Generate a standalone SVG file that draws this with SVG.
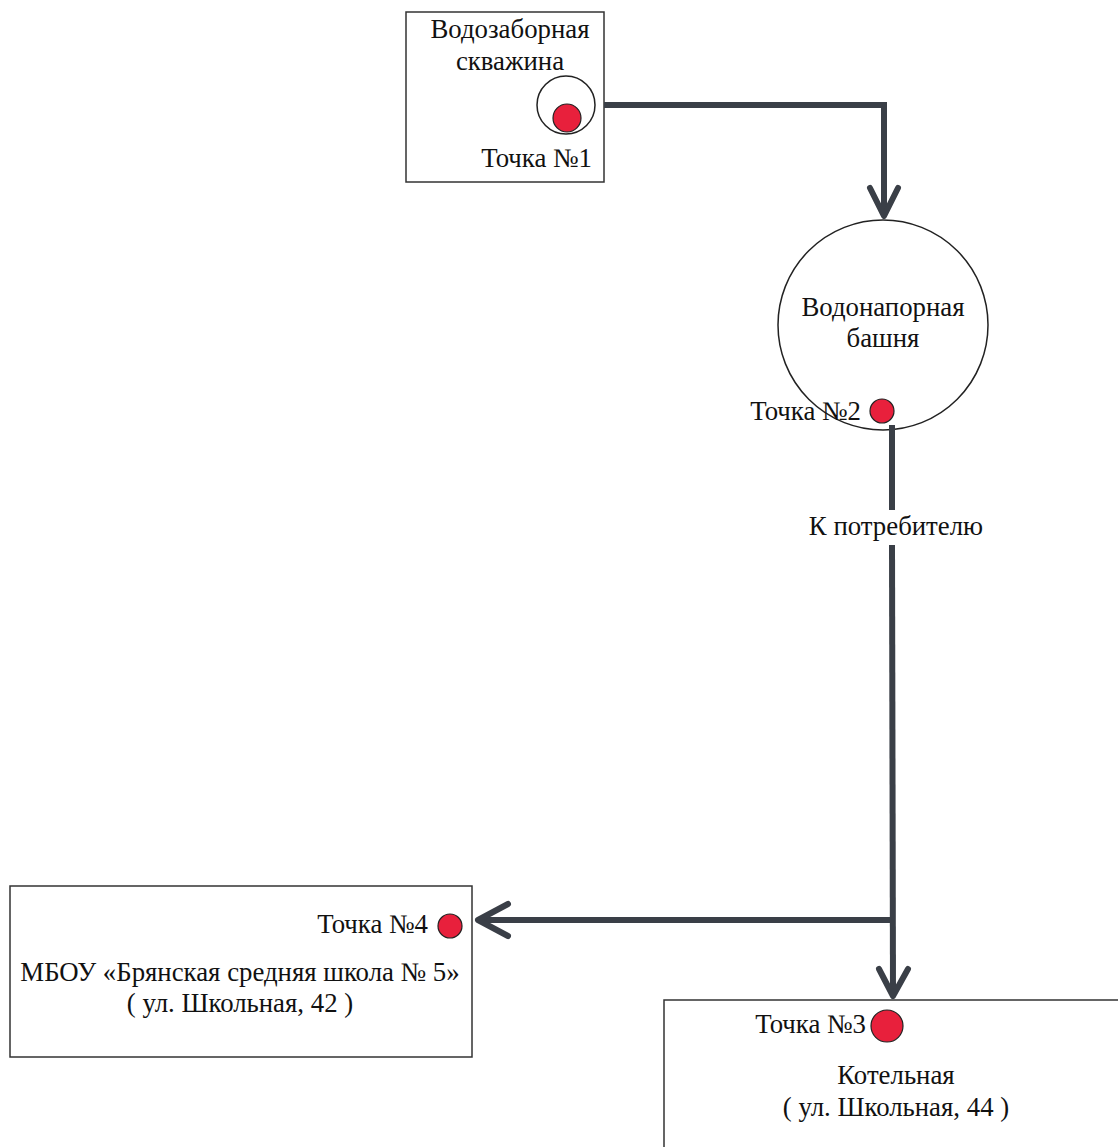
<svg xmlns="http://www.w3.org/2000/svg" width="1118" height="1147" viewBox="0 0 1118 1147">
<style>
.box{fill:#fff;stroke:#333;stroke-width:1.5}
.t{font-family:"Liberation Serif","Times New Roman",serif;font-size:26.8px;fill:#111}
.m{text-anchor:middle}
.e{text-anchor:end}
.dot{fill:#e8203c;stroke:#222;stroke-width:1.2}
.pipe{fill:none;stroke:#3a3f47;stroke-width:6}
.head{fill:none;stroke:#3a3f47;stroke-width:6;stroke-linecap:round;stroke-linejoin:round}
</style>
<rect width="1118" height="1147" fill="#fff"/>
<g id="well">
<rect class="box" x="406" y="12" width="198" height="170"/>
<text class="t m" x="510" y="38">Водозаборная</text>
<text class="t m" x="510" y="70">скважина</text>
<circle cx="566" cy="105" r="29" fill="#fff" stroke="#222" stroke-width="1.5"/>
<circle class="dot" cx="567" cy="118" r="14"/>
<text class="t e" x="592" y="167">Точка №1</text>
</g>
<g id="tower">
<circle cx="883" cy="325" r="105" fill="#fff" stroke="#222" stroke-width="1.5"/>
<text class="t m" x="883" y="316">Водонапорная</text>
<text class="t m" x="883" y="347">башня</text>
<text class="t e" x="861" y="420">Точка №2</text>
<circle class="dot" cx="882" cy="411" r="12"/>
</g>
<g id="school">
<rect class="box" x="10" y="886" width="462" height="171"/>
<text class="t e" x="428" y="933">Точка №4</text>
<circle class="dot" cx="450" cy="926" r="12"/>
<text class="t m" x="240" y="981">МБОУ «Брянская средняя школа № 5»</text>
<text class="t m" x="240" y="1012">( ул. Школьная, 42 )</text>
</g>
<g id="boiler">
<rect class="box" x="664" y="1000" width="460" height="160"/>
<text class="t e" x="866" y="1033">Точка №3</text>
<circle class="dot" cx="887" cy="1026" r="16"/>
<text class="t m" x="896" y="1084">Котельная</text>
<text class="t m" x="896" y="1116">( ул. Школьная, 44 )</text>
</g>
<g id="connectors">
<polyline class="pipe" points="604,105 884,105 884,216"/>
<polyline class="head" points="870,188 884,216 898,188"/>
<line class="pipe" x1="892" y1="425" x2="892" y2="510"/>
<text class="t m" x="896" y="535">К потребителю</text>
<line class="pipe" x1="892" y1="545" x2="893" y2="995"/>
<polyline class="head" points="879,969 893,996 908,969"/>
<line class="pipe" x1="892" y1="920" x2="478" y2="920"/>
<polyline class="head" points="508,904 478,920 508,936"/>
</g>
</svg>
